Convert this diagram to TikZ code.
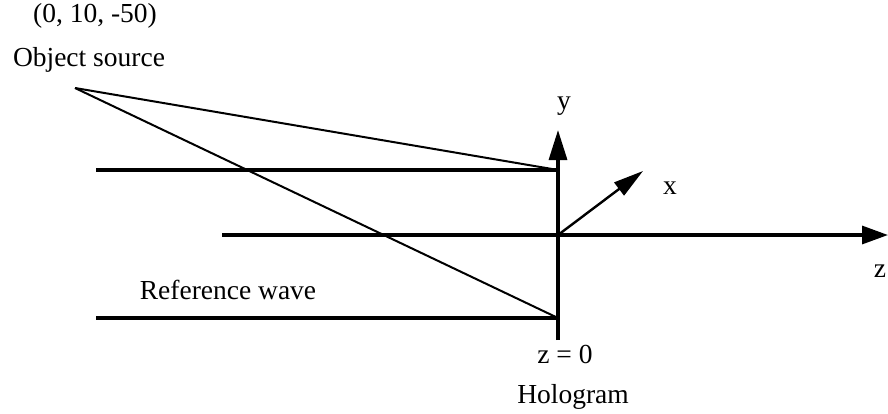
\documentclass[tikz,border=0pt]{standalone}
\usepackage{fontspec}
\setmainfont{Liberation Serif}
\usetikzlibrary{arrows.meta}
\begin{document}
\begin{tikzpicture}[x=1pt,y=-1pt,
  thickline/.style={line width=3.2pt},
  thinline/.style={line width=2pt},
  axisarrow/.style={line width=3.2pt,-{Triangle[length=30pt,width=18pt]}},
  lbl/.style={font=\fontsize{27.5}{32}\selectfont,inner sep=0pt}]
\useasboundingbox (0,0) rectangle (888,413);
% points
\coordinate (src) at (75,88);
\coordinate (ht) at (558,170);
\coordinate (hb) at (558,318);
\coordinate (o) at (558,235);
\coordinate (hbot) at (558,340);
\coordinate (ytip) at (558,130);
\coordinate (xtip) at (643,171);
\coordinate (ztip) at (888,235);
\coordinate (w1) at (96,170);
\coordinate (w2) at (222,235);
\coordinate (w3) at (96,318);
% waves
\draw[thickline] (w1) -- (ht);
\draw[thickline] (w3) -- (hb);
\draw[axisarrow,-{Triangle[length=26pt,width=18pt]}] (w2) -- (ztip);
% object rays
\draw[thinline] (src) -- (ht);
\draw[thinline] (src) -- (hb);
% axes
\draw[axisarrow] (hbot) -- (ytip);
\draw[line width=2.4pt,-{Triangle[length=30pt,width=16pt]}] (o) -- (xtip);
% labels
\node[lbl] (coord) at (95,16) {(0, 10, -50)};
\node[lbl] (objsrc) at (89,60) {Object source};
\node[lbl] (ylbl) at (564,106) {y};
\node[lbl] (xlbl) at (670,188) {x};
\node[lbl] (zlbl) at (880,271) {z};
\node[lbl] (refw) at (228,290) {Reference wave};
\node[lbl] (z0) at (565,354) {z = 0};
\node[lbl] (holo) at (573,397) {Hologram};
\end{tikzpicture}
\end{document}
